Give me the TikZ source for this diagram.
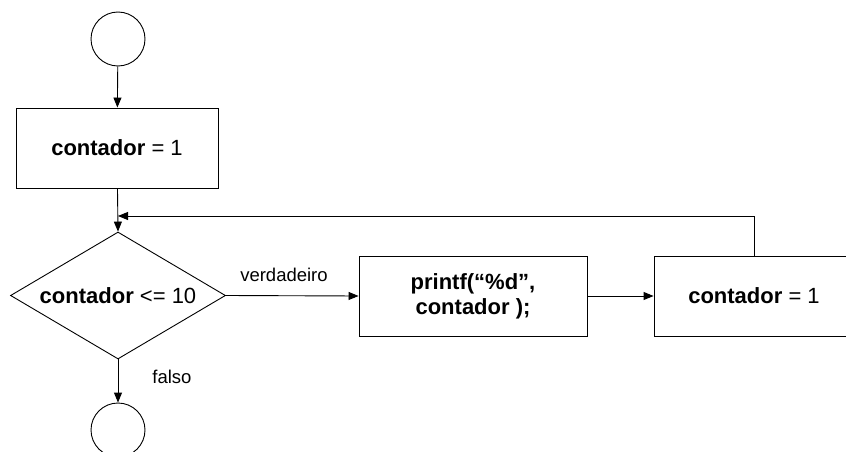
\documentclass[tikz,border=0pt]{standalone}
\usepackage{fontspec}
\setmainfont{Liberation Sans}
\usetikzlibrary{arrows.meta,shapes.geometric}
\begin{document}
\begin{tikzpicture}[x=1pt,y=-1pt, line width=0.9pt,
  txt/.style={font=\fontsize{22}{25}\selectfont, align=center},
  lbl/.style={font=\fontsize{18.5}{21}\selectfont},
  procbox/.style={draw, rectangle, minimum height=80pt, inner sep=0pt, txt},
  terminal/.style={draw, circle, minimum size=54pt, inner sep=0pt},
  decision/.style={draw, diamond, minimum width=215pt, minimum height=127pt, inner sep=0pt},
  arr/.style={-{Triangle[length=10pt,width=8pt]}}]
\useasboundingbox (0,0) rectangle (846,452);
\clip (0,0) rectangle (846,452);

% nodes
\node[terminal] (start) at (118,39) {};
\node[procbox, minimum width=202pt] (init) at (117,148) {\textbf{contador} = 1};
\node[decision] (test) at (118,295.5) {};
\node[txt] (testtxt) at (test.center) {\textbf{contador} <= 10};
\node[procbox, minimum width=228pt] (print) at (473,296) {\textbf{printf(“\%d”,}\\\textbf{contador );}};
\node[procbox, minimum width=200pt] (incr) at (754,296) {\textbf{contador} = 1};
\node[terminal] (stop) at (118,430) {};

\coordinate (loopin) at (118,216);

% connectors
\draw[arr] (start) -- (init);
\draw[arr] (init) -- (test.north);
\draw[arr] (test.east) -- (print.west);
\draw[arr] (print) -- (incr);
\draw[arr] (incr.north) |- (loopin);
\draw[arr] (test.south) -- (stop);

% branch labels
\node[lbl] (verdadeiro) at (284,275) {verdadeiro};
\node[lbl] (falso) at (172,377) {falso};
\end{tikzpicture}
\end{document}
